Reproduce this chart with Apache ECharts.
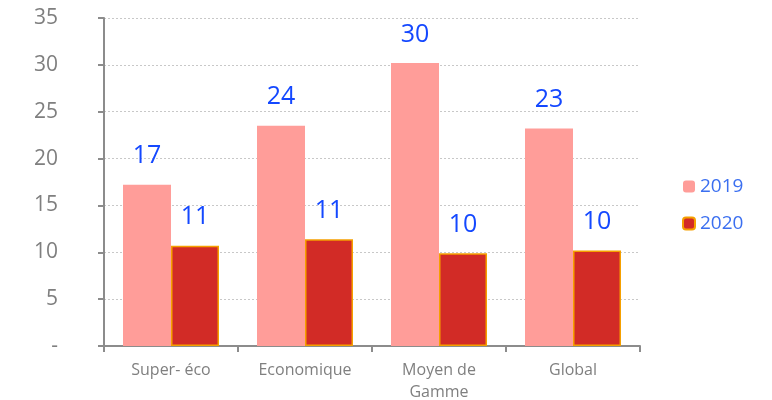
<!DOCTYPE html>
<html>
<head>
<meta charset="utf-8">
<script src="https://cdn.jsdelivr.net/npm/echarts@6/dist/echarts.min.js"></script>
<style>
  html, body { margin: 0; padding: 0; background: #fff; }
  #chart { width: 772px; height: 400px; }
</style>
</head>
<body>
<div id="chart"></div>
<script>
// categories and values
var categories = ["Super- éco", "Economique", "Moyen de\nGamme", "Global"];
var values2019 = [17.2, 23.5, 30.2, 23.2];
var values2020 = [10.7, 11.4, 9.9, 10.2];
var labels2019 = ["17", "24", "30", "23"];
var labels2020 = ["11", "11", "10", "10"];

var chart = echarts.init(document.getElementById("chart"));

var labelStyle = {
  show: true,
  position: "top",
  distance: 16,
  color: "#1448ff",
  fontSize: 25,
  fontFamily: "Open Sans",
};

var option = {
  animation: false,
  grid: { left: 104, right: 132, top: 18, bottom: 54, outerBoundsMode: "none" },
  legend: {
    orient: "vertical",
    left: 677,
    top: 172,
    itemGap: 18,
    itemWidth: 12,
    itemHeight: 12,
    textStyle: { color: "#3b6ff0", fontSize: 19, fontFamily: "Open Sans" },
    data: ["2019", "2020"],
  },
  xAxis: {
    type: "category",
    data: categories,
    axisLine: { lineStyle: { color: "#8c8c8c", width: 2 } },
    axisTick: { show: true, length: 6, lineStyle: { color: "#8c8c8c", width: 2 } },
    axisLabel: {
      color: "#7f7f7f",
      fontSize: 16,
      fontFamily: "Open Sans",
      lineHeight: 22,
      margin: 13,
    },
  },
  yAxis: {
    type: "value",
    min: 0,
    max: 35,
    interval: 5,
    axisLine: { show: true, lineStyle: { color: "#8c8c8c", width: 2 } },
    axisTick: { show: true, length: 6, lineStyle: { color: "#8c8c8c", width: 2 } },
    axisLabel: {
      color: "#7f7f7f",
      fontSize: 21,
      fontFamily: "Open Sans",
      margin: 46,
      formatter: function (v) {
        return v === 0 ? "-" : v;
      },
    },
    splitLine: { lineStyle: { color: "#c8c8c8", type: [2, 2] } },
  },
  series: [
    {
      name: "2019",
      type: "bar",
      data: values2019,
      barWidth: 48,
      barGap: "0%",
      itemStyle: { color: "#ff9d99" },
      label: Object.assign({}, labelStyle, {
        formatter: function (p) {
          return labels2019[p.dataIndex];
        },
      }),
    },
    {
      name: "2020",
      type: "bar",
      data: values2020,
      barWidth: 48,
      itemStyle: { color: "#d22b26", borderColor: "#f5a000", borderWidth: 1.5 },
      label: Object.assign({}, labelStyle, {
        formatter: function (p) {
          return labels2020[p.dataIndex];
        },
      }),
    },
  ],
};

chart.setOption(option);
</script>
</body>
</html>
